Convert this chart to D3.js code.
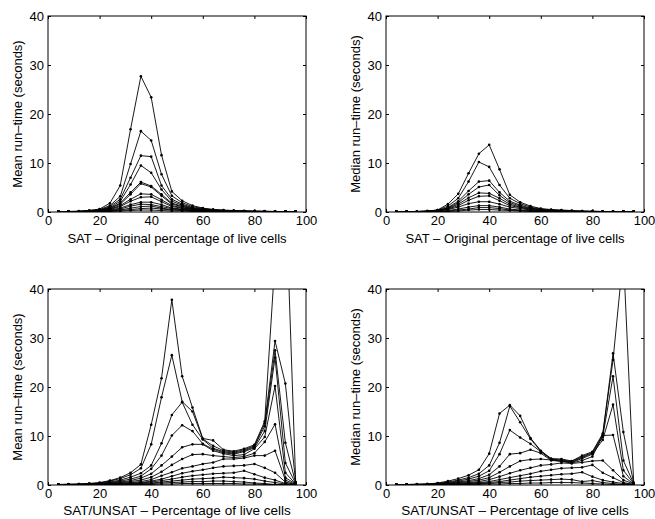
<!DOCTYPE html>
<html>
<head>
<meta charset="utf-8">
<script src="https://cdn.jsdelivr.net/npm/d3@7"></script>
<style>
  body { margin: 0; background: #fff; }
  svg text { font-family: "Liberation Sans", Arial, Helvetica, sans-serif; fill: #000; }
</style>
</head>
<body>
<div class="chart"></div>
<script>
// percentage of live cells (x positions of every series)
var livePct = [4, 8, 12, 16, 20, 24, 28, 32, 36, 40, 44, 48, 52, 56, 60, 64, 68, 72, 76, 80, 84, 88, 92, 96];

var xTicks = [0, 20, 40, 60, 80, 100];
var yTicks = [0, 10, 20, 30, 40];

// top left: mean run-time, SAT
var meanSat = [
  [0.1,0.1,0.2,0.3,0.6,1.8,5.4,16.9,27.7,23.4,11.6,4.2,2.3,1.3,0.8,0.5,0.4,0.3,0.2,0.2,0.2,0.1,0.1,0.1],
  [0.1,0.1,0.1,0.3,0.5,1.3,3.2,9.8,16.5,14.6,7.7,3.3,1.9,1.1,0.7,0.5,0.3,0.3,0.2,0.2,0.1,0.1,0.1,0.1],
  [0.1,0.1,0.1,0.2,0.4,1.1,2.6,7.0,11.5,11.3,5.4,2.6,1.6,0.9,0.6,0.4,0.3,0.2,0.2,0.1,0.1,0.1,0.1,0.1],
  [0.1,0.1,0.1,0.2,0.4,0.9,2.2,5.6,9.5,8.0,4.6,2.2,1.4,0.8,0.5,0.4,0.3,0.2,0.2,0.1,0.1,0.1,0.1,0.1],
  [0.1,0.1,0.1,0.2,0.3,0.8,1.8,4.0,6.1,5.3,3.6,1.8,1.2,0.7,0.5,0.3,0.2,0.2,0.1,0.1,0.1,0.1,0.1,0.1],
  [0.1,0.1,0.1,0.2,0.3,0.7,1.6,3.6,5.8,5.1,3.3,1.6,1.1,0.6,0.4,0.3,0.2,0.2,0.1,0.1,0.1,0.1,0.1,0.1],
  [0.1,0.1,0.1,0.1,0.3,0.6,1.3,2.6,3.7,3.6,2.5,1.3,0.9,0.5,0.4,0.3,0.2,0.1,0.1,0.1,0.1,0.1,0.1,0.1],
  [0.1,0.1,0.1,0.1,0.2,0.5,1.1,2.2,3.0,3.1,2.1,1.1,0.8,0.5,0.3,0.2,0.2,0.1,0.1,0.1,0.1,0.1,0.1,0.1],
  [0.1,0.1,0.1,0.1,0.2,0.4,0.8,1.5,2.0,2.0,1.5,0.8,0.6,0.4,0.3,0.2,0.1,0.1,0.1,0.1,0.1,0.1,0.1,0.1],
  [0.1,0.1,0.1,0.1,0.2,0.3,0.6,1.2,1.6,1.5,1.1,0.7,0.5,0.3,0.2,0.2,0.1,0.1,0.1,0.1,0.1,0.1,0.1,0.1],
  [0.1,0.1,0.1,0.1,0.1,0.2,0.4,0.8,1.1,1.2,0.8,0.5,0.4,0.3,0.2,0.1,0.1,0.1,0.1,0.1,0.1,0.1,0.1,0.1],
  [0.1,0.1,0.1,0.1,0.1,0.2,0.3,0.5,0.7,0.8,0.6,0.4,0.3,0.2,0.1,0.1,0.1,0.1,0.1,0.1,0.1,0.1,0.1,0.1],
  [0.0,0.0,0.0,0.1,0.1,0.1,0.2,0.3,0.4,0.4,0.3,0.2,0.2,0.1,0.1,0.1,0.0,0.0,0.0,0.0,0.0,0.0,0.0,0.0]
];

// top right: median run-time, SAT
var medianSat = [
  [0.1,0.1,0.1,0.2,0.4,1.6,3.7,7.9,11.9,13.7,8.7,3.5,2.0,1.2,0.7,0.5,0.4,0.3,0.2,0.2,0.1,0.1,0.1,0.1],
  [0.1,0.1,0.1,0.2,0.4,1.2,2.8,6.2,10.2,9.2,5.5,2.8,1.7,1.0,0.6,0.4,0.3,0.2,0.2,0.1,0.1,0.1,0.1,0.1],
  [0.1,0.1,0.1,0.2,0.3,0.9,2.2,4.3,6.2,6.4,4.0,2.2,1.4,0.8,0.5,0.4,0.3,0.2,0.1,0.1,0.1,0.1,0.1,0.1],
  [0.1,0.1,0.1,0.1,0.3,0.8,1.9,3.6,5.1,5.5,3.4,1.9,1.2,0.7,0.5,0.3,0.2,0.2,0.1,0.1,0.1,0.1,0.1,0.1],
  [0.1,0.1,0.1,0.1,0.3,0.7,1.6,2.9,3.9,3.8,2.8,1.6,1.0,0.6,0.4,0.3,0.2,0.1,0.1,0.1,0.1,0.1,0.1,0.1],
  [0.1,0.1,0.1,0.1,0.2,0.6,1.3,2.4,3.2,3.3,2.3,1.3,0.9,0.5,0.3,0.2,0.2,0.1,0.1,0.1,0.1,0.1,0.1,0.1],
  [0.1,0.1,0.1,0.1,0.2,0.5,1.0,1.7,2.1,2.1,1.6,1.0,0.7,0.4,0.3,0.2,0.1,0.1,0.1,0.1,0.1,0.1,0.1,0.1],
  [0.1,0.1,0.1,0.1,0.1,0.3,0.6,1.0,1.3,1.3,1.0,0.6,0.4,0.3,0.2,0.1,0.1,0.1,0.1,0.1,0.1,0.1,0.1,0.1],
  [0.0,0.0,0.1,0.1,0.1,0.2,0.4,0.6,0.9,0.9,0.7,0.4,0.3,0.2,0.1,0.1,0.1,0.0,0.0,0.0,0.0,0.0,0.0,0.0],
  [0.0,0.0,0.0,0.0,0.1,0.1,0.2,0.4,0.5,0.5,0.4,0.3,0.2,0.1,0.1,0.0,0.0,0.0,0.0,0.0,0.0,0.0,0.0,0.0]
];

// bottom left: mean run-time, SAT/UNSAT
var meanSatUnsat = [
  [0.1,0.2,0.2,0.3,0.5,0.9,1.5,2.5,4.2,12.3,21.8,37.8,22.2,15.8,9.5,9.1,7.2,6.9,7.4,8.2,13.0,46.0,62.0,0.6],
  [0.1,0.1,0.2,0.3,0.4,0.8,1.3,2.1,3.4,8.3,17.9,26.5,17.0,15.0,9.4,8.0,7.0,6.7,7.2,8.0,12.6,29.4,20.7,0.5],
  [0.1,0.1,0.1,0.2,0.3,0.6,1.0,1.6,2.4,4.0,8.5,14.3,16.9,12.3,9.3,7.5,6.8,6.5,7.0,7.8,12.0,27.5,8.6,0.4],
  [0.1,0.1,0.1,0.2,0.3,0.5,0.8,1.2,1.8,3.3,6.0,10.1,12.2,11.0,8.4,7.3,6.6,6.3,6.8,7.6,11.0,26.0,4.5,0.3],
  [0.1,0.1,0.1,0.2,0.2,0.4,0.6,0.9,1.4,2.3,4.0,5.8,7.7,8.3,8.3,7.0,6.4,6.0,6.2,7.4,9.8,20.2,2.5,0.2],
  [0.1,0.1,0.1,0.1,0.2,0.3,0.5,0.7,1.0,1.6,2.7,4.1,5.3,6.2,6.3,6.0,5.8,5.6,5.8,6.5,8.8,12.4,1.5,0.2],
  [0.1,0.1,0.1,0.1,0.2,0.2,0.4,0.5,0.7,1.1,1.9,2.6,3.4,3.8,4.3,4.6,5.3,5.3,5.5,6.0,6.0,7.0,1.0,0.1],
  [0.1,0.1,0.1,0.1,0.1,0.2,0.3,0.4,0.5,0.8,1.2,1.8,2.4,2.8,3.1,3.5,3.8,3.9,4.0,4.3,3.5,2.5,0.6,0.1],
  [0.1,0.1,0.1,0.1,0.1,0.2,0.2,0.3,0.4,0.6,0.9,1.2,1.6,1.9,2.1,2.3,2.4,2.5,2.9,2.2,1.5,1.0,0.3,0.1],
  [0.1,0.1,0.1,0.1,0.1,0.1,0.2,0.2,0.3,0.4,0.6,0.8,1.0,1.2,1.3,1.4,1.6,1.5,1.4,1.2,0.8,0.5,0.2,0.1],
  [0.0,0.1,0.1,0.1,0.1,0.1,0.1,0.2,0.2,0.3,0.4,0.5,0.6,0.7,0.7,0.8,0.8,0.7,0.6,0.4,0.3,0.1,0.1,0.0],
  [0.0,0.0,0.0,0.0,0.1,0.1,0.1,0.1,0.1,0.1,0.2,0.2,0.3,0.3,0.3,0.3,0.3,0.3,0.2,0.2,0.1,0.1,0.0,0.0]
];

// bottom right: median run-time, SAT/UNSAT
var medianSatUnsat = [
  [0.1,0.1,0.2,0.2,0.4,0.8,1.3,2.0,3.1,6.4,14.6,16.3,14.1,9.6,7.0,5.4,5.3,4.9,6.0,6.8,10.5,25.5,47.0,0.5],
  [0.1,0.1,0.1,0.2,0.3,0.6,1.0,1.5,2.3,4.0,8.6,16.1,12.8,9.4,6.9,5.3,5.1,4.8,5.8,6.6,10.2,26.9,10.8,0.4],
  [0.1,0.1,0.1,0.2,0.3,0.5,0.8,1.2,1.8,2.9,6.3,11.2,9.7,8.4,6.8,5.2,5.0,4.7,5.6,6.5,9.8,22.2,5.0,0.3],
  [0.1,0.1,0.1,0.1,0.2,0.4,0.6,0.9,1.3,2.1,3.8,6.3,6.5,7.2,6.5,5.0,4.9,4.6,5.4,6.3,9.2,16.4,3.0,0.3],
  [0.1,0.1,0.1,0.1,0.2,0.3,0.5,0.7,1.0,1.5,2.6,3.8,4.9,5.2,5.3,5.1,4.8,4.5,5.0,5.8,10.1,10.2,1.8,0.2],
  [0.1,0.1,0.1,0.1,0.1,0.2,0.4,0.5,0.7,1.1,1.7,2.4,3.0,3.5,4.0,4.2,4.5,4.4,4.6,4.9,5.0,3.0,1.0,0.2],
  [0.1,0.1,0.1,0.1,0.1,0.2,0.3,0.4,0.5,0.7,1.1,1.5,1.9,2.3,2.8,3.1,3.4,3.5,3.6,4.1,2.5,1.5,0.5,0.1],
  [0.1,0.1,0.1,0.1,0.1,0.1,0.2,0.3,0.4,0.5,0.7,1.0,1.3,1.6,1.8,2.0,2.2,2.3,2.6,1.7,1.0,0.6,0.3,0.1],
  [0.1,0.1,0.1,0.1,0.1,0.1,0.1,0.2,0.3,0.3,0.5,0.6,0.8,0.9,1.0,1.1,1.2,1.1,0.7,0.9,0.5,0.3,0.1,0.1],
  [0.0,0.0,0.0,0.0,0.1,0.1,0.1,0.1,0.1,0.2,0.2,0.3,0.3,0.4,0.4,0.5,0.5,0.5,0.4,0.3,0.2,0.1,0.1,0.0]
];

var w = 655;
var h = 519;
var pw = 258;   // plot width
var ph = 196;   // plot height

const svg = d3.select(".chart")
  .append("svg")
  .attr("width", w)
  .attr("height", h);

function drawPanel(id, left, top, series, yLabel, xLabel, xLabelY, xLabelSize) {
  var scaleX = d3.scaleLinear().domain([0, 100]).range([0, pw]);
  var scaleY = d3.scaleLinear().domain([0, 40]).range([ph, 0]);

  var g = svg.append("g")
    .attr("transform", "translate(" + left + "," + top + ")");

  g.append("clipPath")
    .attr("id", id)
    .append("rect")
    .attr("width", pw)
    .attr("height", ph);

  // ticks pointing inward on all four sides
  var axisB = d3.axisBottom(scaleX).tickValues(xTicks).tickSize(-3).tickSizeOuter(0).tickPadding(4);
  var axisT = d3.axisTop(scaleX).tickValues(xTicks).tickSize(-3).tickSizeOuter(0).tickFormat("");
  var axisL = d3.axisLeft(scaleY).tickValues(yTicks).tickSize(-3).tickSizeOuter(0).tickPadding(4);
  var axisR = d3.axisRight(scaleY).tickValues(yTicks).tickSize(-3).tickSizeOuter(0).tickFormat("");

  g.append("g").attr("transform", "translate(0," + ph + ")").call(axisB);
  g.append("g").call(axisT);
  g.append("g").call(axisL);
  g.append("g").attr("transform", "translate(" + pw + ",0)").call(axisR);

  g.selectAll(".domain").remove();
  g.selectAll(".tick line").attr("stroke", "#000");
  g.selectAll(".tick text").attr("font-size", 13).attr("fill", "#000");

  var line = d3.line()
    .x((d, i) => scaleX(livePct[i]))
    .y(d => scaleY(d));

  var plot = g.append("g").attr("clip-path", "url(#" + id + ")");

  plot.selectAll(".series")
    .data(series)
    .enter()
    .append("path")
    .attr("class", "series")
    .attr("d", line)
    .attr("fill", "none")
    .attr("stroke", "#000")
    .attr("stroke-width", 0.9);

  series.forEach(function(s) {
    plot.append("g")
      .selectAll("circle")
      .data(s)
      .enter()
      .append("circle")
      .attr("cx", (d, i) => scaleX(livePct[i]))
      .attr("cy", d => scaleY(d))
      .attr("r", 1.3)
      .attr("fill", "#000");
  });

  g.append("rect")
    .attr("width", pw)
    .attr("height", ph)
    .attr("fill", "none")
    .attr("stroke", "#000")
    .attr("stroke-width", 1);

  g.append("text")
    .attr("transform", "translate(-26," + (ph / 2) + ") rotate(-90)")
    .attr("text-anchor", "middle")
    .attr("font-size", 13)
    .text(yLabel);

  g.append("text")
    .attr("x", pw / 2)
    .attr("y", ph + xLabelY)
    .attr("text-anchor", "middle")
    .attr("font-size", xLabelSize)
    .text(xLabel);
}

drawPanel("c1", 48, 16, meanSat, "Mean run\u2013time (seconds)", "SAT \u2013 Original percentage of live cells", 31, 13);
drawPanel("c2", 386, 16, medianSat, "Median run\u2013time (seconds)", "SAT \u2013 Original percentage of live cells", 31, 13);
drawPanel("c3", 48, 289, meanSatUnsat, "Mean run\u2013time (seconds)", "SAT/UNSAT \u2013 Percentage of live cells", 30, 13.5);
drawPanel("c4", 386, 289, medianSatUnsat, "Median run\u2013time (seconds)", "SAT/UNSAT \u2013 Percentage of live cells", 30, 13.5);
</script>
</body>
</html>
